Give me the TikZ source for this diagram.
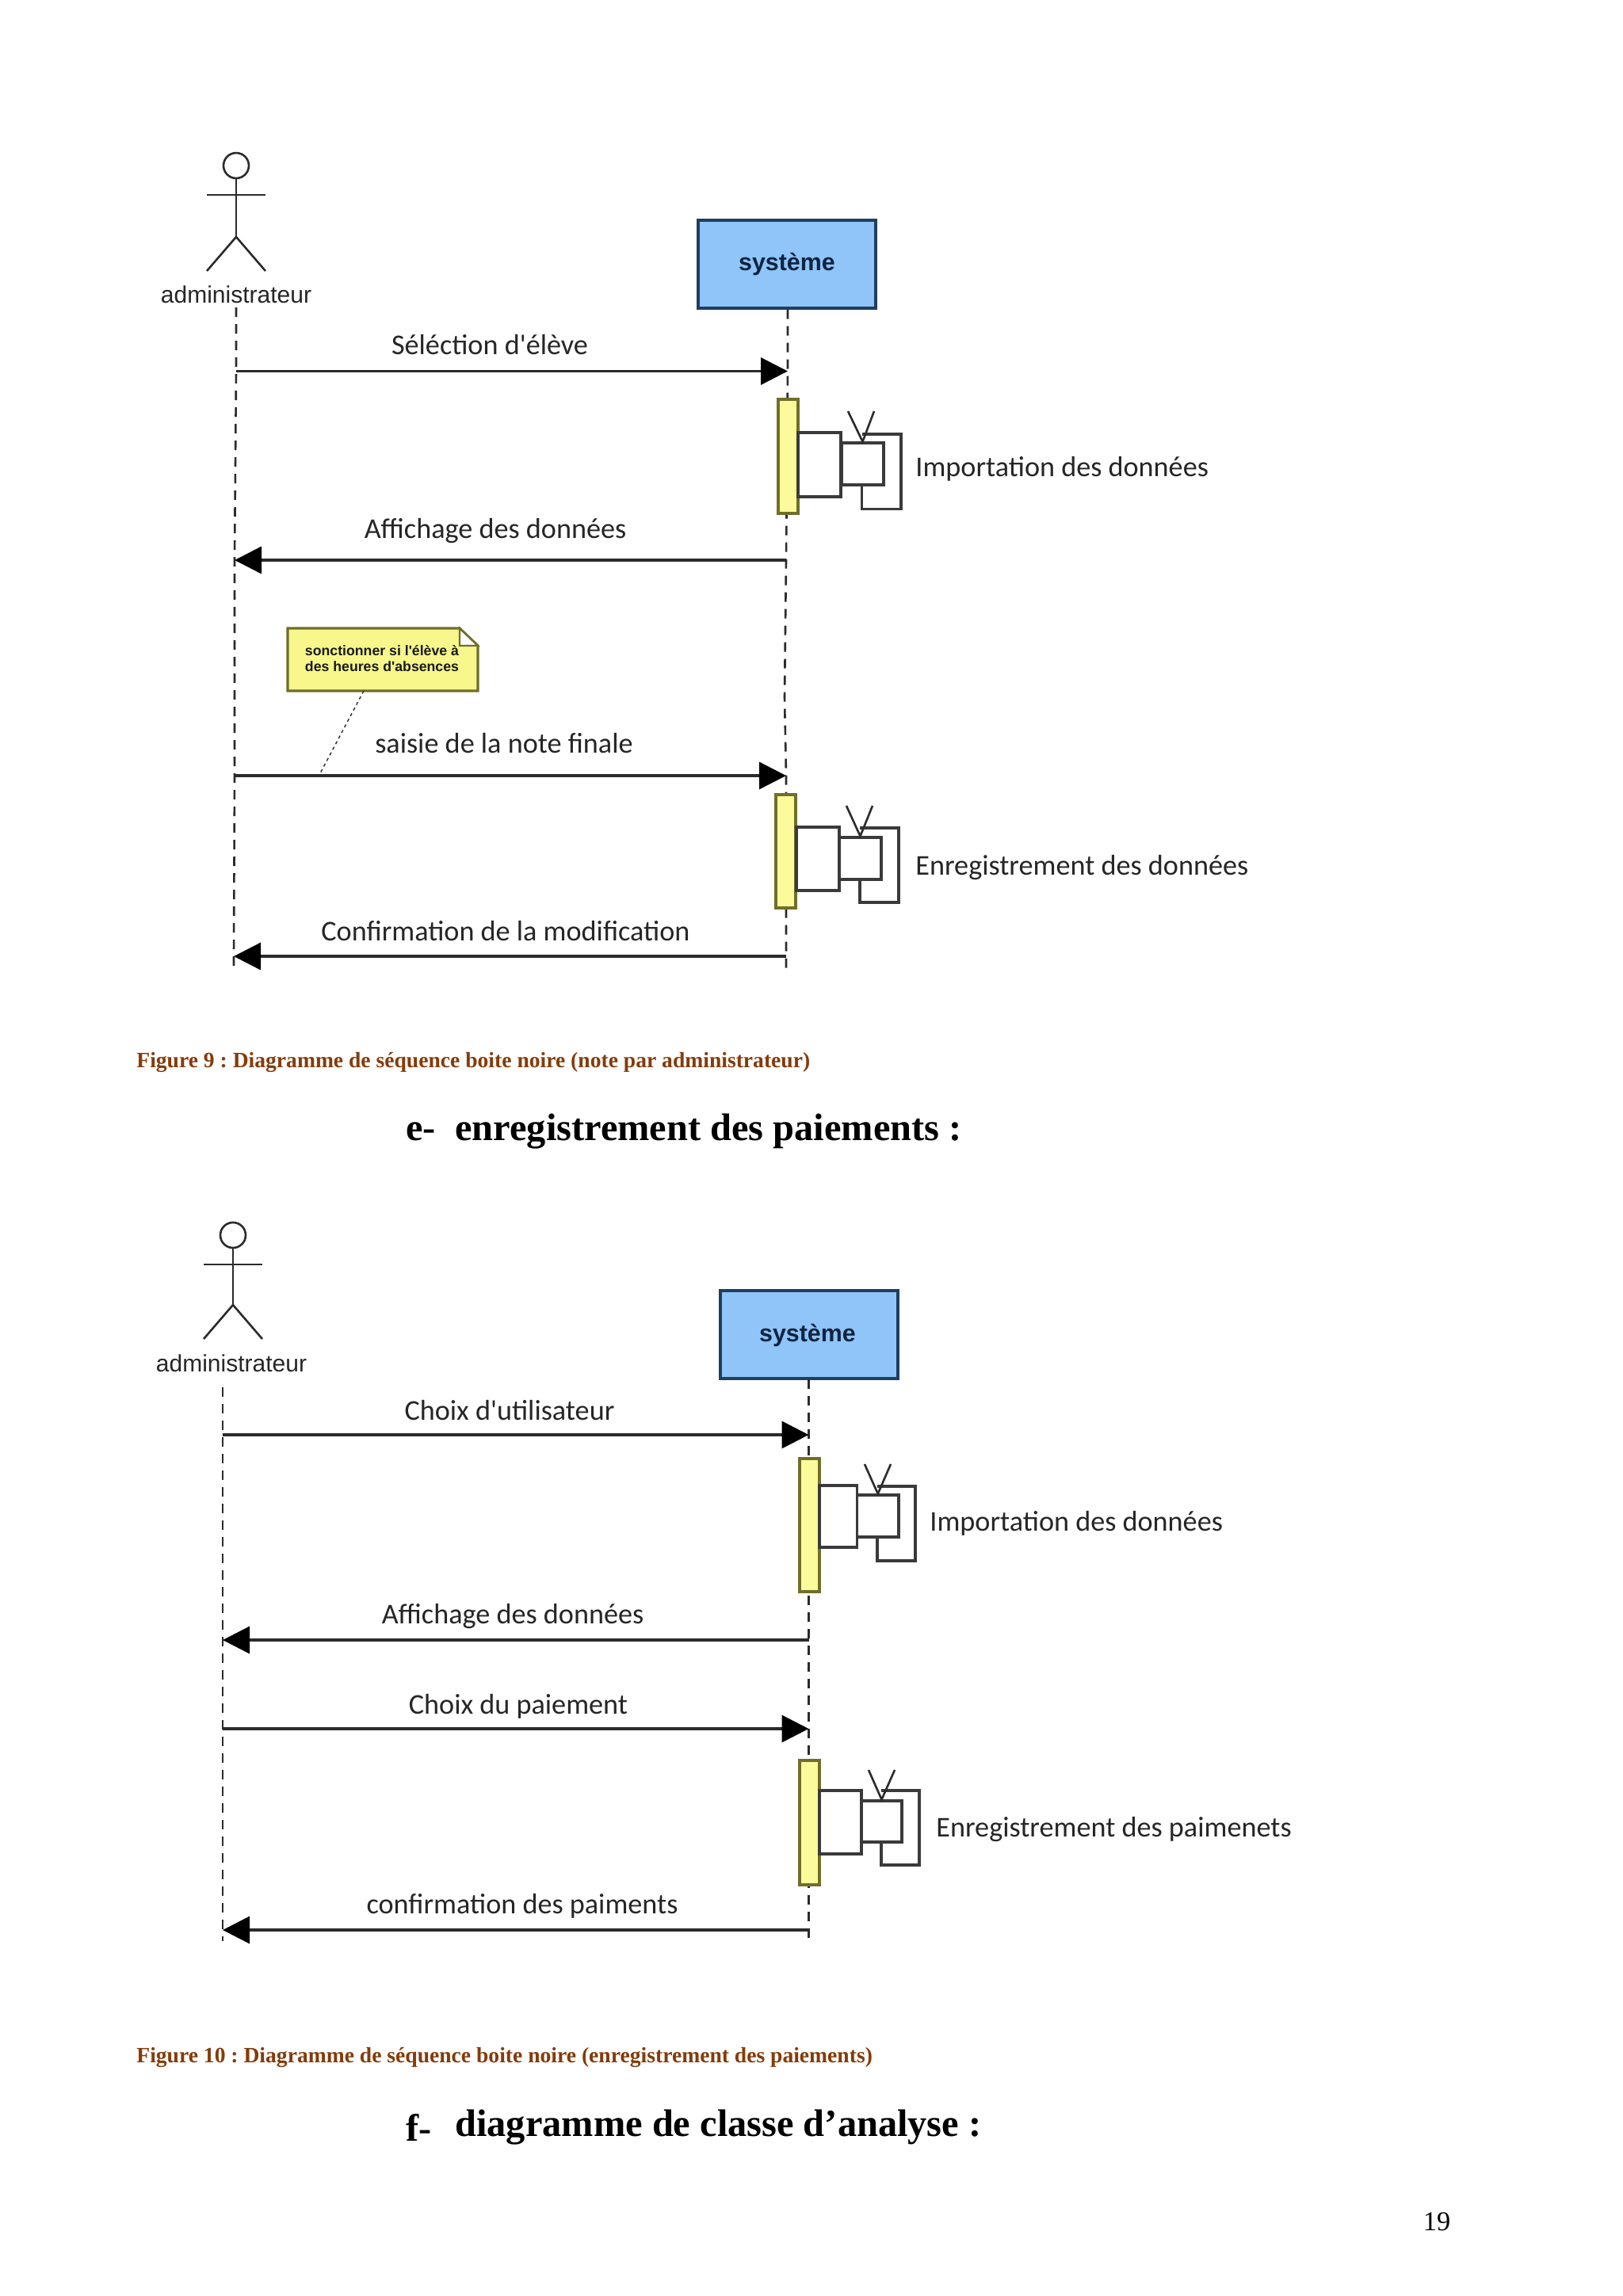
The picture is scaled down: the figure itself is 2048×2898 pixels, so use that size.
\documentclass[tikz,border=0pt]{standalone}
\usepackage{fontspec}
\setmainfont{Liberation Serif}
\newfontfamily\msgfont{Carlito}
\newfontfamily\umlfont{Liberation Sans}
\usetikzlibrary{arrows.meta}
\definecolor{capbrown}{HTML}{843C0B}
\definecolor{lineink}{HTML}{2B2B2B}
\definecolor{sysblue}{HTML}{8FC5F8}
\definecolor{sysedge}{HTML}{1F3F5F}
\definecolor{sysink}{HTML}{0F2340}
\definecolor{actyellow}{HTML}{FBFB9B}
\definecolor{actedge}{HTML}{6F6F2A}
\definecolor{noteyellow}{HTML}{F7F78C}
\definecolor{loopgrey}{HTML}{3A3A3A}
\tikzset{
  lifeline/.style={draw=lineink,line width=1.3pt,dash pattern=on 6pt off 4.5pt},
  actorline/.style={draw=lineink,line width=1.3pt},
  msgto/.style={draw=lineink,line width=1.7pt,-{Triangle[length=17pt,width=17pt,color=black]}},
  msglabel/.style={font=\msgfont\fontsize{18.1}{22}\selectfont,text=black!85,inner sep=0pt,anchor=center},
  actorlabel/.style={font=\umlfont\fontsize{15}{18}\selectfont,text=black!85,inner sep=0pt,anchor=center},
  sidelabel/.style={font=\msgfont\fontsize{18.1}{22}\selectfont,text=black!85,inner sep=0pt,anchor=west},
  caption/.style={font=\frenchspacing\bfseries\fontsize{13.8}{18}\selectfont,text=capbrown,inner sep=0pt,anchor=west},
  heading/.style={font=\frenchspacing\bfseries\fontsize{24.2}{28}\selectfont,text=black,inner sep=0pt,anchor=west},
  sysbox/.style={draw=sysedge,line width=1.7pt,fill=sysblue,inner sep=0pt},
  systext/.style={font=\umlfont\bfseries\fontsize{15.2}{18}\selectfont,text=sysink,inner sep=0pt},
  actbox/.style={draw=actedge,line width=1.6pt,fill=actyellow,inner sep=0pt},
  callbox/.style={draw=loopgrey,line width=1.6pt,fill=white,inner sep=0pt},
  loopline/.style={draw=loopgrey,line width=1.6pt},
  notelink/.style={draw=lineink,line width=.7pt,dash pattern=on 2pt off 2pt},
  notetext/.style={font=\umlfont\bfseries\fontsize{8.85}{10}\selectfont,text=black!90,inner sep=0pt},
}
\newcommand{\bx}[6][]{\node[#1,rectangle,minimum width={(#5-#3)*0.5pt},minimum height={(#6-#4)*0.5pt}] (#2) at ({(#3+#5)/2},{(#4+#6)/2}) {};}
\newcommand{\figactor}[4]{%
  \node[draw=lineink,line width=1.3pt,circle,minimum size=16pt,inner sep=0pt] (#1head) at (#2,#3) {};
  \coordinate (#1hip) at (#2,#3+#4);
  \coordinate (#1armL) at (#2-37,#3+37);
  \coordinate (#1armR) at (#2+37,#3+37);
  \coordinate (#1legL) at (#2-37,#3+#4+43);
  \coordinate (#1legR) at (#2+37,#3+#4+43);
  \draw[actorline] (#1head.south) -- (#1hip);
  \draw[actorline] (#1armL) -- (#1armR);
  \draw[actorline] (#1legL) -- (#1hip) -- (#1legR);
}
\begin{document}
\begin{tikzpicture}[x=0.5pt,y=-0.5pt]
\useasboundingbox (0,0) rectangle (2048,2898);
\fill[white] (0,0) rectangle (2048,2898);

% ---------- Figure 9
\figactor{A}{298}{209}{90}
\node[actorlabel] (Alabel) at (298,372) {administrateur};
\bx[sysbox]{Asys}{881}{278}{1105}{389}
\node[systext] (Asystxt) at (993,333) {système};
\coordinate (Aa0) at (298,388);
\coordinate (Aa1) at (298,468.5);
\coordinate (Aa2) at (296,707);
\coordinate (Aa3) at (296,979);
\coordinate (Aa4) at (295,1207);
\coordinate (Aa5) at (295,1224);
\coordinate (As1) at (994,468.5);
\coordinate (As2) at (992,707);
\coordinate (As3) at (992,979);
\coordinate (As4) at (992,1207);
\coordinate (As5) at (992,1224);
\draw[lifeline] (Aa0) -- (Aa1) -- (Aa2) -- (Aa3) -- (Aa4) -- (Aa5);
\draw[lifeline] (Asys.south -| As1) -- (As1) -- (As2) -- (990,880) -- (As3) -- (As4) -- (As5);
\draw[msgto] (Aa1) -- (As1);
\draw[msgto] (As2) -- (Aa2);
\draw[msgto] (Aa3) -- (As3);
\draw[msgto] (As4) -- (Aa4);
\node[msglabel] (Am1) at (618,435) {Séléction d'élève};
\node[msglabel] (Am2) at (625,670) {Affichage des données};
\node[msglabel] (Am3) at (636,938) {saisie de la note finale};
\node[msglabel] (Am4) at (638,1175) {Confirmation de la modification};
\bx[actbox]{Aact1}{982}{504}{1007}{648}
\bx[callbox]{Aca}{1007}{546}{1061}{627}
\coordinate (Alt) at (1087.5,548);
\coordinate (Alr) at (1137,548);
\coordinate (Alb) at (1137,642.5);
\coordinate (All) at (1087.5,642.5);
\draw[loopline] (Alt) -- (Alr) -- (Alb) -- (All) -- (1087.5,612);
\bx[callbox]{Acb}{1062}{559}{1115}{612}
\coordinate (Avl) at (1070,519);
\coordinate (Avr) at (1103,519);
\draw[actorline] (Avl) -- (Acb.north) -- (Avr);
\node[sidelabel] (As1lab) at (1155,592) {Importation des données};
\bx[actbox]{Aact2}{979}{1003}{1004}{1146}
\bx[callbox]{Acc}{1005}{1044}{1059}{1124}
\coordinate (Amt) at (1085,1045);
\coordinate (Amr) at (1134,1045);
\coordinate (Amb) at (1134,1139);
\coordinate (Aml) at (1085,1139);
\draw[loopline] (Amt) -- (Amr) -- (Amb) -- (Aml) -- (1085,1110);
\bx[callbox]{Acd}{1059}{1057}{1112}{1110}
\coordinate (Awl) at (1068,1017);
\coordinate (Awr) at (1101,1017);
\draw[actorline] (Awl) -- (Acd.north) -- (Awr);
\node[sidelabel] (As2lab) at (1155,1095) {Enregistrement des données};

% note
\coordinate (Nnw) at (363,793);
\coordinate (Nfa) at (580,793);
\coordinate (Nfb) at (603,815);
\coordinate (Nse) at (603,872);
\coordinate (Nsw) at (363,872);
\coordinate (Nfc) at (580,815);
\draw[draw=actedge,line width=1.6pt,fill=noteyellow] (Nnw) -- (Nfa) -- (Nfb) -- (Nse) -- (Nsw) -- cycle;
\draw[draw=actedge,line width=1.2pt,fill=white] (Nfa) -- (Nfb) -- (Nfc) -- cycle;
\node[notetext] (Nt1) at (482,821) {sonctionner si l'élève à};
\node[notetext] (Nt2) at (482,841) {des heures d'absences};
\coordinate (Nl1) at (459,872);
\coordinate (Nl2) at (403,978);
\draw[notelink] (Nl1) -- (Nl2);

\node[caption] (Cap9) at (172,1341) {Figure 9 : Diagramme de séquence boite noire (note par administrateur)};
\node[heading] (He) at (512,1428) {e-};
\node[heading] (Het) at (574,1428) {enregistrement des paiements :};

% ---------- Figure 10
\figactor{B}{294}{1559}{88}
\node[actorlabel] (Blabel) at (292,1721) {administrateur};
\bx[sysbox]{Bsys}{909}{1629}{1133}{1740}
\node[systext] (Bsystxt) at (1019,1685) {système};
\coordinate (Ba0) at (281,1751);
\coordinate (Ba1) at (281,1811);
\coordinate (Ba2) at (281,2070);
\coordinate (Ba3) at (281,2182);
\coordinate (Ba4) at (281,2436);
\coordinate (Ba5) at (281,2450);
\coordinate (Bs0) at (1020.5,1741);
\coordinate (Bs1) at (1020.5,1811);
\coordinate (Bs2) at (1020.5,2070);
\coordinate (Bs3) at (1020.5,2182);
\coordinate (Bs4) at (1020.5,2436);
\coordinate (Bs5) at (1020.5,2451);
\draw[lifeline] (Ba0) -- (Ba5);
\draw[lifeline] (Bs0) -- (Bs5);
\draw[msgto] (Ba1) -- (Bs1);
\draw[msgto] (Bs2) -- (Ba2);
\draw[msgto] (Ba3) -- (Bs3);
\draw[msgto] (Bs4) -- (Ba4);
\node[msglabel] (Bm1) at (643,1780) {Choix d'utilisateur};
\node[msglabel] (Bm2) at (647,2040) {Affichage des données};
\node[msglabel] (Bm3) at (654,2154) {Choix du paiement};
\node[msglabel] (Bm4) at (659,2406) {confirmation des paiments};
\bx[actbox]{Bact1}{1009}{1841}{1034}{2009}
\bx[callbox]{Bca}{1034}{1875}{1081.5}{1953}
\coordinate (Blt) at (1107,1876);
\coordinate (Blr) at (1155,1876);
\coordinate (Blb) at (1155,1970);
\coordinate (Bll) at (1107,1970);
\draw[loopline] (Blt) -- (Blr) -- (Blb) -- (Bll) -- (1107,1940);
\bx[callbox]{Bcb}{1081.5}{1887}{1134}{1940}
\coordinate (Bvl) at (1091,1848);
\coordinate (Bvr) at (1124,1848);
\draw[actorline] (Bvl) -- (Bcb.north) -- (Bvr);
\node[sidelabel] (Bs1lab) at (1173,1923) {Importation des données};
\bx[actbox]{Bact2}{1009}{2222}{1034}{2379}
\bx[callbox]{Bcc}{1034}{2260}{1087}{2340}
\coordinate (Bmt) at (1112,2260);
\coordinate (Bmr) at (1160,2260);
\coordinate (Bmb) at (1160,2354);
\coordinate (Bml) at (1112,2354);
\draw[loopline] (Bmt) -- (Bmr) -- (Bmb) -- (Bml) -- (1112,2325);
\bx[callbox]{Bcd}{1087}{2273}{1138}{2325}
\coordinate (Bwl) at (1096,2234);
\coordinate (Bwr) at (1129,2234);
\draw[actorline] (Bwl) -- (Bcd.north) -- (Bwr);
\node[sidelabel] (Bs2lab) at (1181,2309) {Enregistrement des paimenets};

\node[caption] (Cap10) at (172,2597) {Figure 10 : Diagramme de séquence boite noire (enregistrement des paiements)};
\node[heading] (Hf) at (512,2685) {f-};
\node[heading] (Hft) at (574,2685) {diagramme de classe d’analyse :};
\node[font=\fontsize{17.2}{20}\selectfont,inner sep=0pt] (Pg) at (1813,2804) {19};
\end{tikzpicture}
\end{document}
